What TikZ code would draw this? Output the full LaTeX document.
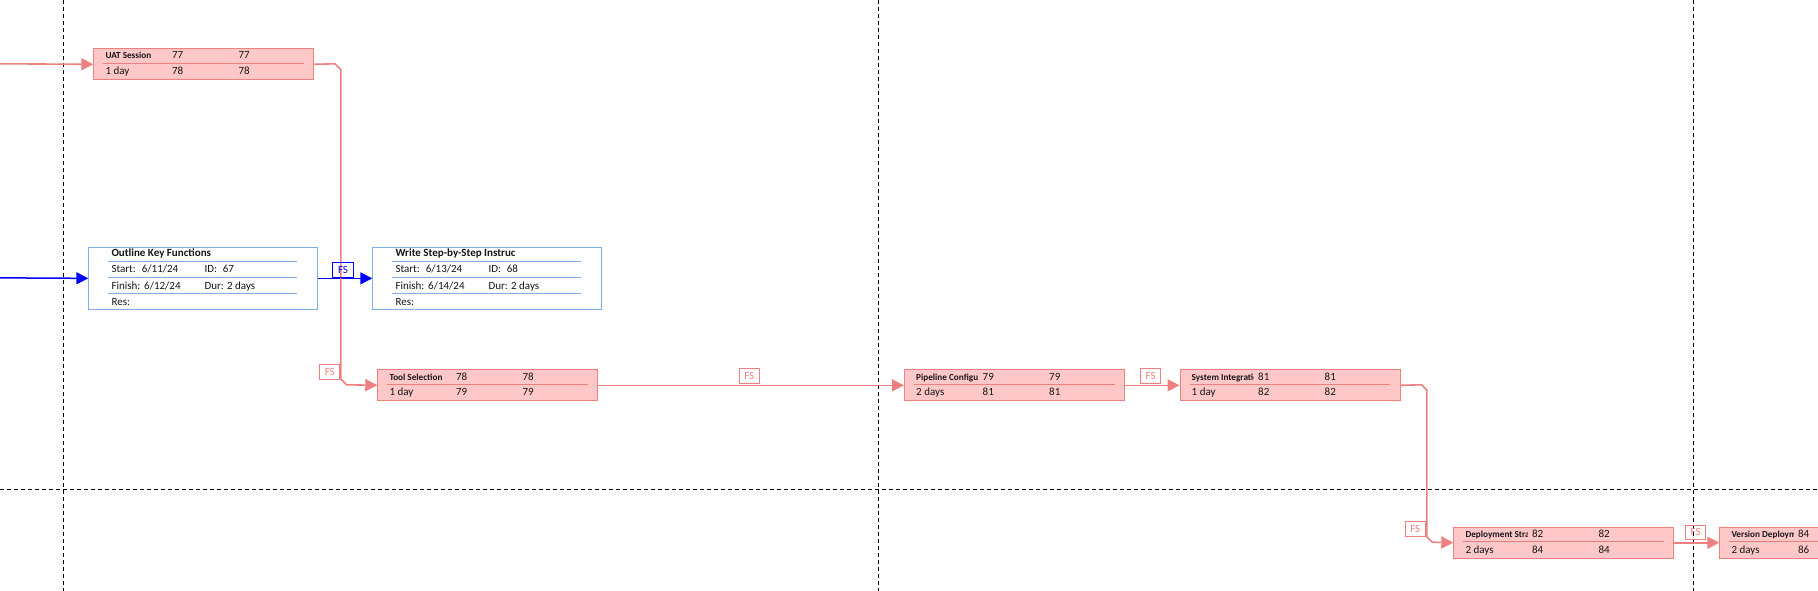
\documentclass[tikz,border=0pt]{standalone}
\usepackage{fontspec}
\setmainfont{Carlito}
\usetikzlibrary{arrows.meta,calc}
\definecolor{pline}{HTML}{F08080}
\definecolor{pfill}{HTML}{FFC8C8}
\definecolor{bline}{HTML}{7FAFE6}
\definecolor{txt}{HTML}{161616}
\tikzset{
  pinkbox/.style={draw=pline, fill=pfill, line width=1pt, minimum width=220pt, minimum height=31pt, inner sep=0pt, anchor=north west},
  bluebox/.style={draw=bline, fill=white, line width=1pt, minimum width=229pt, minimum height=62.3pt, inner sep=0pt, anchor=north west},
  ptitle/.style={anchor=base west, inner sep=0pt, font=\fontsize{9.2}{10}\selectfont\bfseries, text=txt},
  ptxt/.style={anchor=base west, inner sep=0pt, font=\fontsize{11}{12}\selectfont, text=txt},
  btitle/.style={anchor=base west, inner sep=0pt, font=\fontsize{11}{12}\selectfont\bfseries, text=txt},
  pconn/.style={draw=pline, line width=1.6pt, -{Triangle[length=12pt,width=12pt]}},
  bconn/.style={draw=blue, line width=1.5pt, -{Triangle[length=12pt,width=12pt]}},
  fspink/.style={draw=pline, text=pline, line width=0.9pt, inner sep=0pt, minimum width=20pt, minimum height=14.5pt, font=\fontsize{11}{12}\selectfont},
  fsblue/.style={draw=blue, text=blue, line width=1pt, inner sep=0pt, minimum width=20.6pt, minimum height=15pt, font=\fontsize{11}{12}\selectfont},
  gridl/.style={draw=black, line width=0.9pt, dash pattern=on 4pt off 3pt},
}
% name, x, y, title, n1, n2, dur, n3, n4
\newcommand{\ptask}[9]{%
  \node[pinkbox] (#1) at (#2,#3) {};
  \draw[pline, line width=0.9pt] ($(#1.north west)+(10,15)$) -- ($(#1.north west)+(210.7,15)$);
  \begin{scope}
    \clip ($(#1.north west)+(10,1)$) rectangle ($(#1.north west)+(74,15)$);
    \node[ptitle] (#1-t) at ($(#1.north west)+(12,10.7)$) {#4};
  \end{scope}
  \node[ptxt] (#1-a) at ($(#1.north west)+(78.5,10.7)$) {#5};
  \node[ptxt] (#1-b) at ($(#1.north west)+(145,10.7)$) {#6};
  \node[ptxt] (#1-c) at ($(#1.north west)+(12,26.5)$) {#7};
  \node[ptxt] (#1-d) at ($(#1.north west)+(78.5,26.5)$) {#8};
  \node[ptxt] (#1-e) at ($(#1.north west)+(145,26.5)$) {#9};
}
% name, x, y, title, start, id, finish, dur
\newcommand{\btask}[8]{%
  \node[bluebox] (#1) at (#2,#3) {};
  \foreach \yy in {14.3,30.6,46.6}
    \draw[bline, line width=0.9pt] ($(#1.north west)+(20,\yy)$) -- ($(#1.north west)+(208.4,\yy)$);
  \node[btitle] (#1-t) at ($(#1.north west)+(23,10)$) {#4};
  \node[ptxt] (#1-s1) at ($(#1.north west)+(23,26)$) {Start:};
  \node[ptxt] (#1-s2) at ($(#1.north west)+(53.4,26)$) {#5};
  \node[ptxt] (#1-i1) at ($(#1.north west)+(116,26)$) {ID:};
  \node[ptxt] (#1-i2) at ($(#1.north west)+(134.4,26)$) {#6};
  \node[ptxt] (#1-f1) at ($(#1.north west)+(23,42.3)$) {Finish:};
  \node[ptxt] (#1-f2) at ($(#1.north west)+(55.7,42.3)$) {#7};
  \node[ptxt] (#1-d) at ($(#1.north west)+(116,42.3)$) {Dur: #8};
  \node[ptxt] (#1-r) at ($(#1.north west)+(23,58.3)$) {Res:};
}
\begin{document}
\begin{tikzpicture}[x=1pt,y=-1pt]
\useasboundingbox (0,0) rectangle (1818,591);
\clip (0,0) rectangle (1818,591);
\fill[white] (0,0) rectangle (1818,591);
% page grid
\draw[gridl] (63.5,0) -- (63.5,591);
\draw[gridl] (878.5,0) -- (878.5,591);
\draw[gridl] (1693.5,0) -- (1693.5,591);
\draw[gridl] (0,489.5) -- (1818,489.5);

% tasks
\ptask{uat}{93.3}{48.3}{UAT Session}{77}{77}{1 day}{78}{78}
\ptask{tool}{377.3}{369.3}{Tool Selection}{78}{78}{1 day}{79}{79}
\ptask{pipe}{904}{369.3}{Pipeline Configu}{79}{79}{2 days}{81}{81}
\ptask{sys}{1179.5}{369.3}{System Integratio}{81}{81}{1 day}{82}{82}
\ptask{dep}{1453.3}{526.7}{Deployment Stra}{82}{82}{2 days}{84}{84}
\ptask{ver}{1719.3}{526.7}{Version Deploym}{84}{}{2 days}{86}{}
\btask{outl}{88.3}{246.7}{Outline Key Functions}{6/11/24}{67}{6/12/24}{2 days}
\btask{wstep}{372.3}{246.7}{Write Step-by-Step Instruc}{6/13/24}{68}{6/14/24}{2 days}

% incoming free ends
\coordinate (pin) at (0,63.8);
\coordinate (bin) at (0,277.85);
\draw[pconn] (pin) -- (uat.west);
\draw[bconn] (bin) -- (outl.west);

% blue link
\draw[bconn] (outl.east) -- (wstep.west);

% pink links
\draw[pconn] (uat.east) -- (335,63.8) -- (340.8,69.6) -- (340.8,379) -- (346.6,384.8) -- (tool.west);
\draw[pconn] (tool.east) -- (pipe.west);
\draw[pconn] (pipe.east) -- (sys.west);
\draw[pconn] (sys.east) -- (1421.5,384.8) -- (1426.8,390.1) -- (1426.8,536.9) -- (1432.1,542.2) -- (dep.west);
\draw[pconn] (dep.east) -- (ver.west);

% FS labels
\node[fsblue] (fsb) at (343,270.2) {FS};
\node[fspink] (fs1) at (329.8,372) {FS};
\node[fspink] (fs2) at (749.3,375.8) {FS};
\node[fspink] (fs3) at (1150.7,375.8) {FS};
\node[fspink] (fs4) at (1415.3,528.8) {FS};
\node[fspink] (fs5) at (1695.7,532.2) {FS};
\end{tikzpicture}
\end{document}
